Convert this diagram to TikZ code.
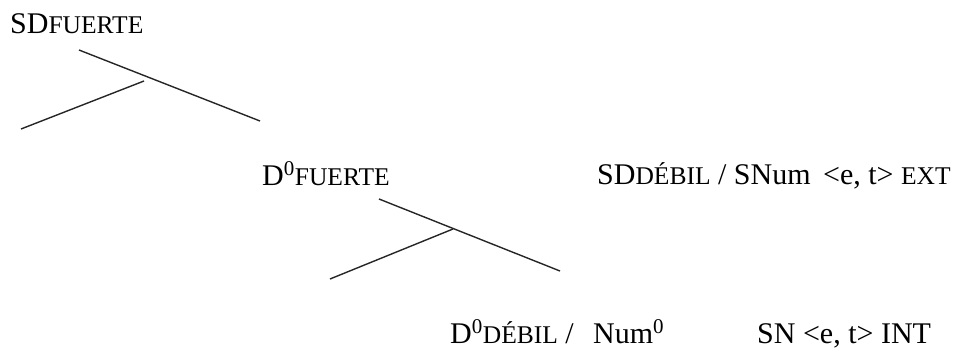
\documentclass[tikz,border=0pt]{standalone}
\usepackage{fontspec}
\setmainfont{Liberation Serif}
\newcommand\mysc[1]{{\fontsize{25.5}{25.5}\selectfont #1}}
\begin{document}
\begin{tikzpicture}[x=1pt,y=-1pt,
  lbl/.style={inner sep=0pt,anchor=base west,font=\fontsize{30}{30}\selectfont},
  branch/.style={line width=1.4pt,black!85}]
\useasboundingbox (0,0) rectangle (959,351);
\node[lbl] (sdf) at (10,33) {SD\mysc{FUERTE}};
\node[lbl] (d0f) at (262,185) {D\textsuperscript{0}\mysc{FUERTE}};
\node[lbl] (sdd) at (597,184) {SD\mysc{DÉBIL} / SNum \,<e, t> \mysc{EXT}};
\node[lbl] (d0d) at (450,343) {D\textsuperscript{0}\mysc{DÉBIL} /};
\node[lbl] (num) at (593,343) {Num\textsuperscript{0}};
\node[lbl] (sn) at (757,343) {SN <e, t> INT};
\coordinate (a1) at (79,50);
\coordinate (a2) at (260,121);
\coordinate (a3) at (144,81);
\coordinate (a4) at (21,129);
\coordinate (b1) at (379,199);
\coordinate (b2) at (560,271);
\coordinate (b3) at (453,229);
\coordinate (b4) at (330,279);
\draw[branch] (a1) -- (a2);
\draw[branch] (a3) -- (a4);
\draw[branch] (b1) -- (b2);
\draw[branch] (b3) -- (b4);
\end{tikzpicture}
\end{document}
